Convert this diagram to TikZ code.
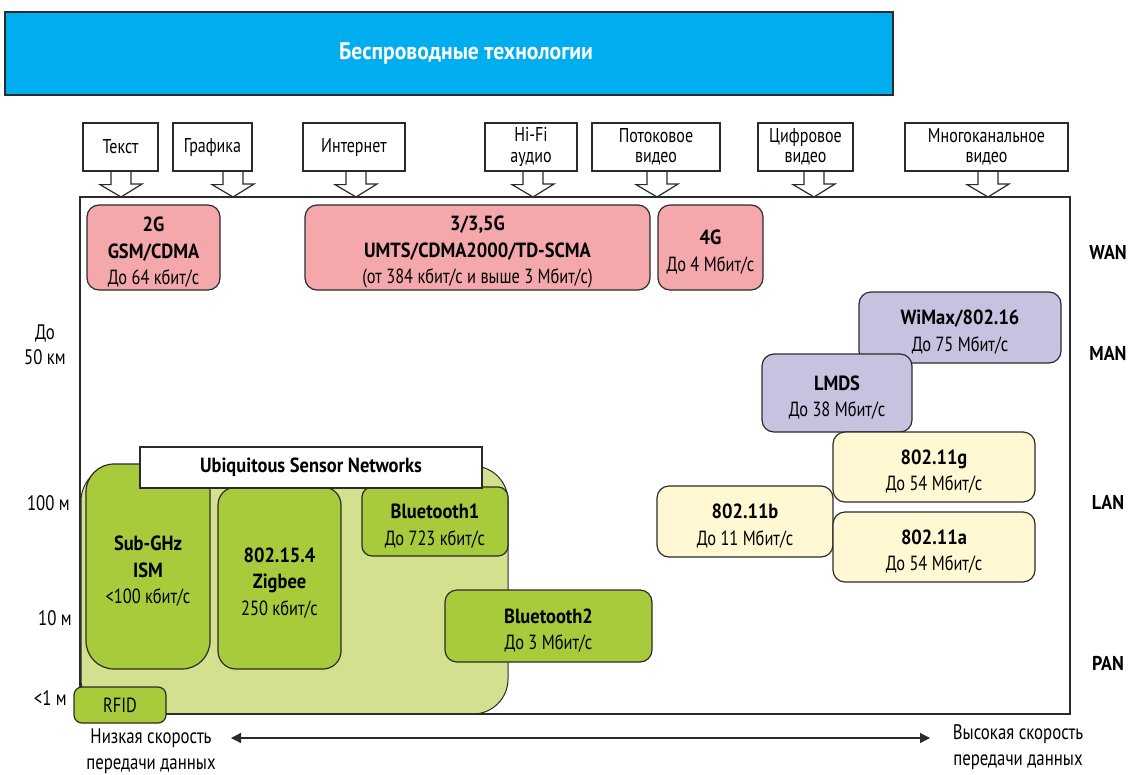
\documentclass[tikz,border=0pt]{standalone}
\usepackage{fontspec}
\setmainfont[FakeStretch=0.8,BoldFeatures={FakeStretch=0.9}]{PT Sans}
\usetikzlibrary{arrows.meta,calc}
\definecolor{edge}{HTML}{2B2B2B}
\definecolor{cyanbar}{HTML}{00AEEF}
\definecolor{pinkbox}{HTML}{F4A8AC}
\definecolor{lavbox}{HTML}{C6C3E1}
\definecolor{yelbox}{HTML}{FFF8D2}
\definecolor{grnbox}{HTML}{A7CB3B}
\definecolor{ltgrn}{HTML}{D3E18E}
\newcommand\topstrut{\rule{0pt}{24pt}}
\pgfdeclarelayer{bg}
\pgfsetlayers{bg,main}
\begin{document}
\begin{tikzpicture}[x=1pt,y=-1pt,
  tbox/.style={draw=edge,line width=1.2pt,align=center,inner sep=0pt,
    font=\fontsize{20.5}{26.5}\selectfont,rounded corners=12pt},
  pinkb/.style={tbox,fill=pinkbox},
  lavb/.style={tbox,fill=lavbox},
  yelb/.style={tbox,fill=yelbox},
  grnb/.style={tbox,fill=grnbox},
  capbox/.style={draw=edge,line width=1.2pt,fill=white,align=center,inner sep=0pt,
    minimum height=48pt,font=\fontsize{20}{20.5}\selectfont},
  blkarrow/.style={draw=edge,line width=1.2pt,fill=white,line join=miter},
  sidelbl/.style={font=\fontsize{21}{25}\selectfont,align=center,inner sep=0pt},
  netlbl/.style={font=\fontsize{20}{22}\selectfont\bfseries,inner sep=0pt},
  axlbl/.style={font=\fontsize{21}{26}\selectfont,align=center,inner sep=0pt},
]
\useasboundingbox (0,0) rectangle (1130,774);

% title bar
\node[draw=edge,line width=1.6pt,fill=cyanbar,minimum width=888pt,minimum height=83pt,inner sep=0pt] (title) at (449,53.5) {};
\node[text=white,font=\fontsize{24}{26}\selectfont\bfseries,inner sep=0pt] (titletxt) at (466,53) {Беспроводные технологии};

% light green USN region and main frame
\node[draw=edge,line width=1pt,fill=ltgrn,rounded corners=35pt,minimum width=427pt,minimum height=248pt,inner sep=0pt] (usnbg) at (294.5,590) {};
\node[draw=edge,line width=2.3pt,minimum width=990pt,minimum height=517pt,inner sep=0pt] (frame) at (575,455.5) {};

% caption boxes
\node[capbox,minimum width=75pt] (t1) at (120.5,147) {Текст};
\node[capbox,minimum width=79pt] (t2) at (212.5,147) {Графика};
\node[capbox,minimum width=102pt] (t3) at (354,147) {Интернет};
\node[capbox,minimum width=92pt] (t4) at (531,147) {Hi-Fi\\аудио};
\node[capbox,minimum width=128pt] (t5) at (656,147) {Потоковое\\видео};
\node[capbox,minimum width=95pt] (t6) at (805.5,147) {Цифровое\\видео};
\node[capbox,minimum width=163pt] (t7) at (986.5,147) {Многоканальное\\видео};

\coordinate (a1) at (121,197);
\coordinate (a2) at (233,197);
\coordinate (a3) at (356,197);
\coordinate (a4) at (533,197);
\coordinate (a5) at (657,197);
\coordinate (a6) at (814,197);
\coordinate (a7) at (988,197);
\begin{pgfonlayer}{bg}
\foreach \i in {1,...,7}{
  \filldraw[blkarrow] ($(t\i.south -| a\i)+(-10,0)$) -- ++(0,13) -- ++(-11,0) -- (a\i)
     -- ($(a\i)+(21,-13)$) -- ++(-11,0) -- ($(t\i.south -| a\i)+(10,0)$);
}
\end{pgfonlayer}

% WAN
\node[pinkb,minimum width=133pt,minimum height=85pt] (g2) at (153.5,247.5) {\topstrut\textbf{2G}\\\textbf{GSM/CDMA}\\До 64 кбит/с};
\node[pinkb,minimum width=345pt,minimum height=85pt] (g3) at (477.5,247.5) {\topstrut\textbf{3/3,5G}\\\textbf{UMTS/CDMA2000/TD-SCMA}\\(от 384 кбит/с и выше 3 Мбит/с)};
\node[pinkb,minimum width=105pt,minimum height=85pt] (g4) at (710.5,247.5) {\topstrut\textbf{4G}\\До 4 Мбит/с};

% MAN
\node[lavb,minimum width=202pt,minimum height=71pt] (wimax) at (960,327.5) {\topstrut\textbf{WiMax/802.16}\\До 75 Мбит/с};
\node[lavb,minimum width=150pt,minimum height=78pt] (lmds) at (837,393) {\topstrut\textbf{LMDS}\\До 38 Мбит/с};

% LAN
\node[yelb,minimum width=176pt,minimum height=71pt] (wb) at (745,521.5) {\topstrut\textbf{802.11b}\\До 11 Мбит/с};
\node[yelb,minimum width=202pt,minimum height=70pt] (wg) at (934,467) {\topstrut\textbf{802.11g}\\До 54 Мбит/с};
\node[yelb,minimum width=202pt,minimum height=70pt] (wa) at (934,547) {\topstrut\textbf{802.11a}\\До 54 Мбит/с};

% PAN / USN
\node[grnb,rounded corners=28pt,minimum width=124pt,minimum height=205pt] (subghz) at (148,566.5) {\topstrut\textbf{Sub-GHz}\\\textbf{ISM}\\<100 кбит/с};
\node[grnb,rounded corners=18pt,minimum width=123pt,minimum height=182pt] (zig) at (279.5,578) {\topstrut\textbf{802.15.4}\\\textbf{Zigbee}\\250 кбит/с};
\node[grnb,rounded corners=10pt,minimum width=146pt,minimum height=69pt] (bt1) at (435,521.5) {\topstrut\textbf{Bluetooth1}\\До 723 кбит/с};
\node[grnb,rounded corners=12pt,minimum width=207pt,minimum height=72pt] (bt2) at (548.5,626) {\topstrut\textbf{Bluetooth2}\\До 3 Мбит/с};
\node[draw=edge,line width=1.2pt,fill=white,minimum width=342pt,minimum height=41pt,inner sep=0pt,font=\fontsize{20.5}{22}\selectfont\bfseries] (usn) at (311,467.5) {Ubiquitous Sensor Networks};
\node[grnb,rounded corners=8pt,minimum width=92pt,minimum height=36pt] (rfid) at (120,705) {RFID};

% network class labels
\node[netlbl] (wan) at (1108,252) {WAN};
\node[netlbl] (man) at (1108,353) {MAN};
\node[netlbl] (lan) at (1108,502) {LAN};
\node[netlbl] (pan) at (1108,663) {PAN};

% distance labels
\node[sidelbl] (d50) at (45,344.5) {До\\50 км};
\node[sidelbl,anchor=east] (d100) at (70,503) {100 м};
\node[sidelbl,anchor=east] (d10) at (72,618) {10 м};
\node[sidelbl,anchor=east] (d1) at (67,698) {<1 м};

% speed axis
\node[axlbl] (lowsp) at (151,751.5) {Низкая скорость\\передачи данных};
\node[axlbl] (hisp) at (1018,747.5) {Высокая скорость\\передачи данных};
\coordinate (axl) at (231,738);
\coordinate (axr) at (930,738);
\draw[edge,line width=1.3pt,{Triangle[length=10pt,width=10pt]}-{Triangle[length=10pt,width=10pt]}] (axl) -- (axr);
\end{tikzpicture}
\end{document}
